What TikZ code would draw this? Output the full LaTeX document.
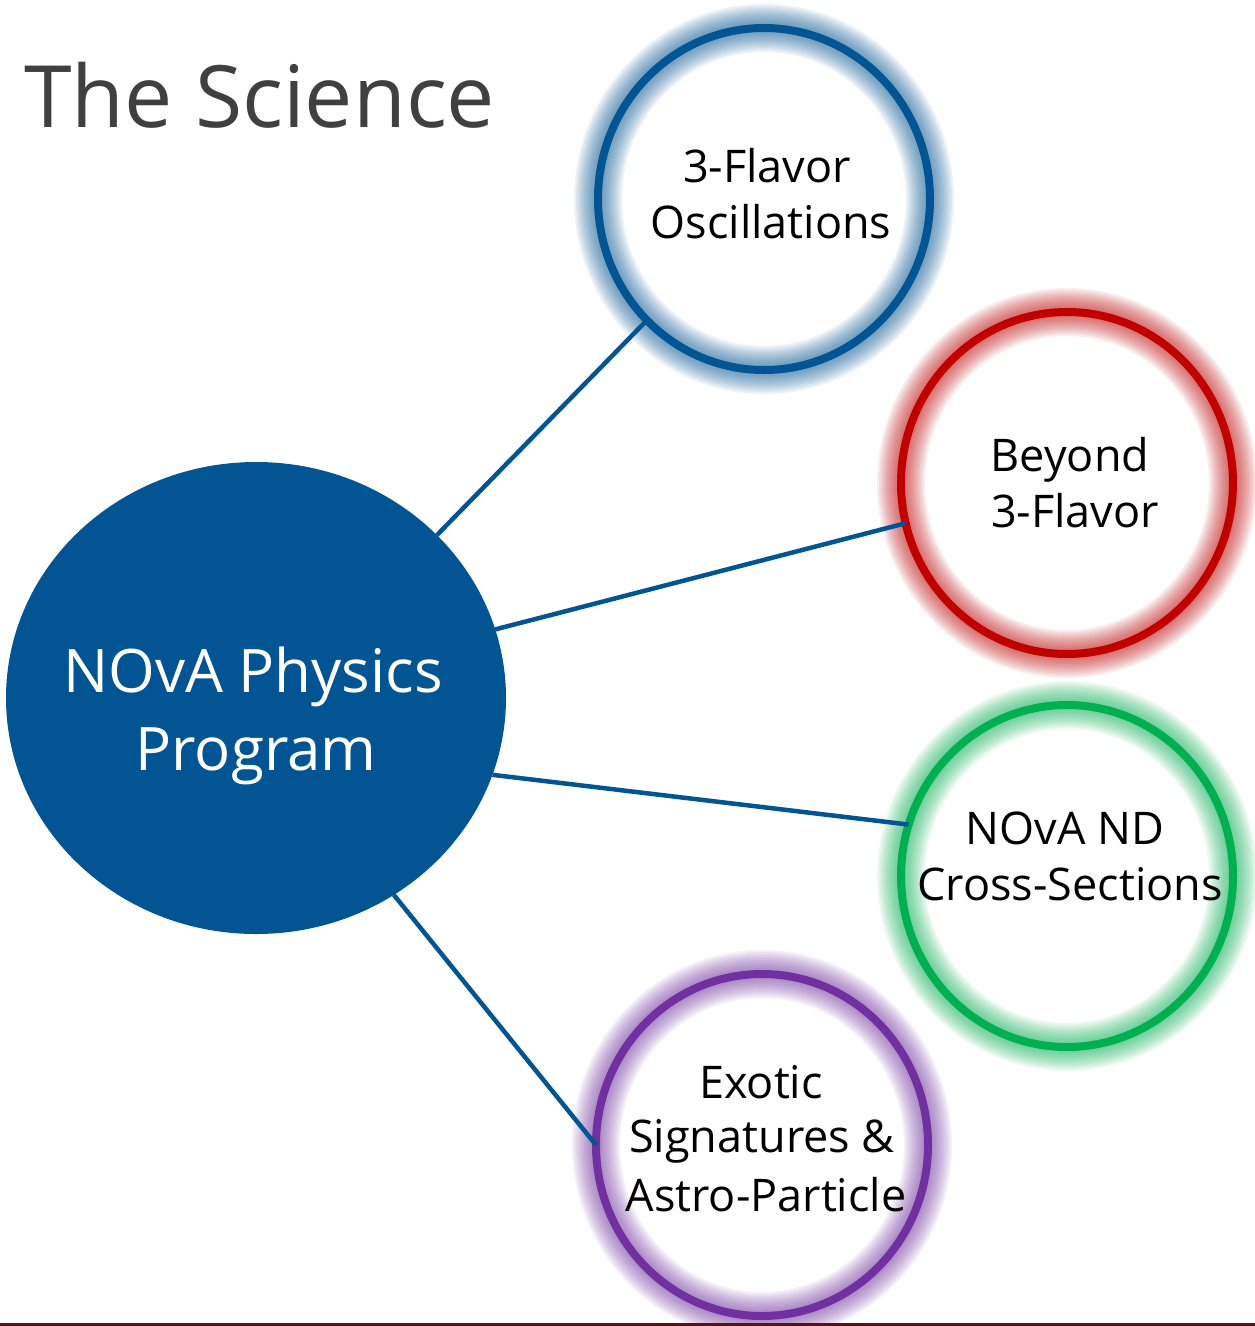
\documentclass[tikz,border=0pt]{standalone}
\usepackage{fontspec}
\setmainfont{Open Sans}
\usetikzlibrary{shapes.geometric}
\definecolor{novablue}{RGB}{2,84,147}
\definecolor{ringred}{RGB}{192,0,0}
\definecolor{ringgreen}{RGB}{0,176,80}
\definecolor{ringpurple}{RGB}{112,48,160}
\definecolor{titlegray}{RGB}{64,64,64}
\definecolor{maroonline}{RGB}{88,20,20}
\newcommand\drawglow[2]{%
  \foreach \k in {1,...,10}{%
    \draw[draw=#2, opacity=0.07, line width={8pt+4pt*\k}] (#1) ellipse [x radius=166pt, y radius=171pt];
  }%
}
\tikzset{
  ring/.style={ellipse, minimum width=332pt, minimum height=342pt, inner sep=0pt, outer sep=0pt, line width=8pt, fill=none},
  lbl/.style={anchor=base, inner sep=0pt, outer sep=0pt, font=\fontsize{45}{54}\selectfont, text=black},
  corelbl/.style={anchor=base, inner sep=0pt, outer sep=0pt, font=\fontsize{60}{72}\selectfont, text=white},
  link/.style={draw=novablue, line width=4.5pt},
}
\begin{document}
\begin{tikzpicture}[x=1pt, y=-1pt]
\useasboundingbox (0,0) rectangle (1255,1326);
\fill[white] (0,0) rectangle (1255,1326);

% title
\node[anchor=base west, inner sep=0pt, font=\fontsize{86}{96}\selectfont, text=titlegray] (title) at (24,127) {The Science};

% centres of the rings
\coordinate (p1) at (764,199);
\coordinate (p2) at (1067,483);
\coordinate (p3) at (1067,876);
\coordinate (p4) at (762,1145);

% glows
\drawglow{p1}{novablue}
\drawglow{p2}{ringred}
\drawglow{p3}{ringgreen}
\drawglow{p4}{ringpurple}

% core
\node[ellipse, fill=novablue, minimum width=500pt, minimum height=472pt, inner sep=0pt, outer sep=0pt] (core) at (256,698) {};

% rings
\node[ring, draw=novablue] (b1) at (p1) {};
\node[ring, draw=ringred] (b2) at (p2) {};
\node[ring, draw=ringgreen] (b3) at (p3) {};
\node[ring, draw=ringpurple] (b4) at (p4) {};

% links
\draw[link] (core.42.4) -- (b1.226);
\draw[link] (core.16.7) -- (b2.194);
\draw[link] (core.-18.7) -- (b3.162);
\draw[link] (core.-55) -- (b4.180);

% labels
\node[corelbl] (c1) at (253,692) {NOvA Physics};
\node[corelbl] (c2) at (256,770) {Program};

\node[lbl] (t1a) at (767,182) {3-Flavor};
\node[lbl] (t1b) at (771,238) {Oscillations};

\node[lbl] (t2a) at (1070,471) {Beyond};
\node[lbl] (t2b) at (1075,527) {3-Flavor};

\node[lbl] (t3a) at (1065,844) {NOvA ND};
\node[lbl] (t3b) at (1070,900) {Cross-Sections};

\node[lbl] (t4a) at (761,1098) {Exotic};
\node[lbl] (t4b) at (762,1152) {Signatures \&};
\node[lbl] (t4c) at (766,1211) {Astro-Particle};

% bottom rule
\draw[draw=maroonline, line width=2.5pt] (0,1324.5) -- (1255,1324.5);
\end{tikzpicture}
\end{document}
